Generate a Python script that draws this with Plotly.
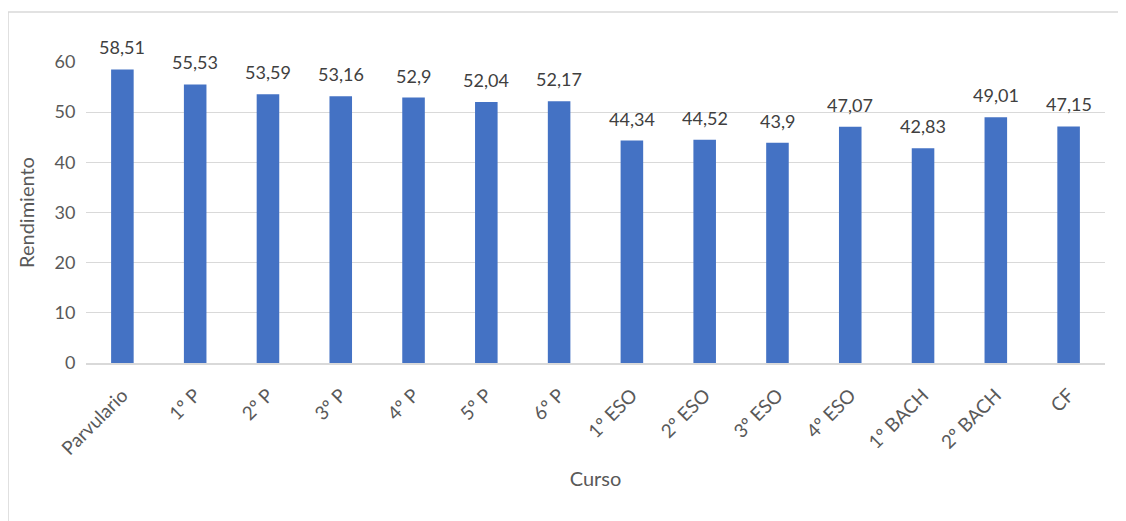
import plotly.graph_objects as go

cursos = ["Parvulario", "1º P", "2º P", "3º P", "4º P", "5º P", "6º P",
          "1º ESO", "2º ESO", "3º ESO", "4º ESO", "1º BACH", "2º BACH", "CF"]
rendimiento = [58.51, 55.53, 53.59, 53.16, 52.9, 52.04, 52.17,
               44.34, 44.52, 43.9, 47.07, 42.83, 49.01, 47.15]
y_ticks = [0, 10, 20, 30, 40, 50, 60]

etiquetas = [f"{v:g}".replace(".", ",") for v in rendimiento]

FONT = "Lato, 'Open Sans', sans-serif"
GREY = "#595959"
GRID = "#D9D9D9"

fig = go.Figure()
fig.add_trace(go.Bar(
    x=cursos, y=rendimiento,
    marker=dict(color="#4472C4", line=dict(width=0)),
    hovertemplate="%{x}: %{y}<extra></extra>",
))

# etiquetas de datos encima de cada barra
for c, v, t in zip(cursos, rendimiento, etiquetas):
    fig.add_annotation(
        x=c, y=v, text=t, showarrow=False,
        yanchor="bottom", yshift=9,
        font=dict(size=18, color="#404040", family=FONT),
    )

# el body de la página tiene 8px de margen: se compensa en los márgenes
fig.update_layout(
    width=1126, height=521,
    margin=dict(l=78, r=29, t=54, b=166),
    plot_bgcolor="white", paper_bgcolor="white",
    font=dict(family=FONT, color=GREY, size=16),
    bargap=0.69,
    showlegend=False,
    xaxis=dict(
        title=dict(text="Curso", font=dict(size=20, color=GREY), standoff=14),
        tickangle=-45, tickfont=dict(size=19, color=GREY),
        showline=True, linecolor=GRID, linewidth=1.5,
        showgrid=False, ticks="outside", ticklen=12, tickcolor="rgba(0,0,0,0)",
    ),
    yaxis=dict(
        title=dict(text="Rendimiento", font=dict(size=20, color=GREY), standoff=14),
        range=[0, 60], tickvals=y_ticks,
        tickfont=dict(size=18, color=GREY),
        gridcolor=GRID, gridwidth=1, zeroline=False,
        showline=False, ticks="outside", ticklen=6, tickcolor="rgba(0,0,0,0)",
    ),
    shapes=[dict(
        type="rect", xref="paper", yref="paper",
        x0=-0.0765, x1=1.019, y0=-0.55, y1=1.166,
        line=dict(color=GRID, width=1.5), layer="below",
    )],
)

fig.write_html("out.html")
